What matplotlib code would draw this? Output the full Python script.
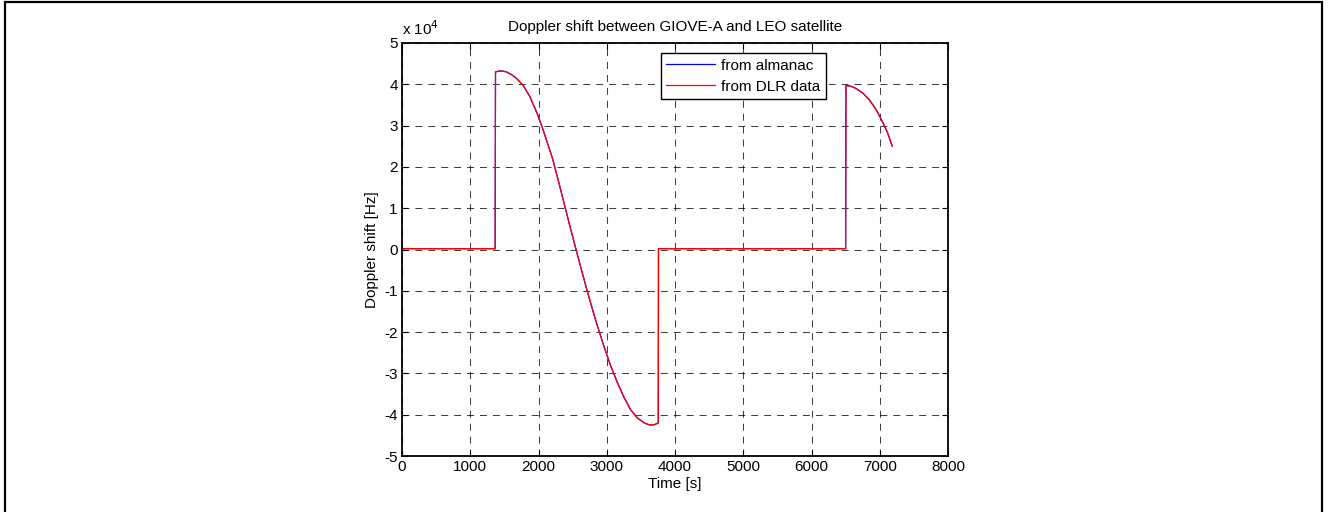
import matplotlib
matplotlib.use("Agg")
import matplotlib.pyplot as plt
from matplotlib.patches import Rectangle

plt.rcParams['font.family'] = ['Liberation Sans', 'DejaVu Sans']
plt.rcParams['lines.scale_dashes'] = False

# ---- data ----
time_s = [0, 1365, 1370, 1420, 1480, 1530, 1600, 1680, 1776, 1874, 1981, 2069,
          2206, 2289, 2370, 2450, 2550, 2650, 2750, 2850, 2950, 3050, 3150,
          3250, 3350, 3450, 3550, 3630, 3700, 3755, 3758, 6500, 6505, 6585,
          6650, 6750, 6850, 6950, 7050, 7120, 7184]
almanac_hz = [200, 200, 43000, 43200, 43200, 43000, 42400, 41400, 39700, 37000,
              32900, 28900, 22000, 16800, 11500, 6300, 0, -6200, -12200, -17800,
              -23000, -27800, -32000, -35700, -38800, -40800, -42000, -42500,
              -42400, -42000, 200, 200, 39700, 39500, 39000, 37900, 36200,
              33800, 30600, 28000, 25000]
dlr_hz = list(almanac_hz)

x_ticks = [0, 1000, 2000, 3000, 4000, 5000, 6000, 7000, 8000]
y_ticks = [-5, -4, -3, -2, -1, 0, 1, 2, 3, 4, 5]
series_labels = ["from almanac", "from DLR data"]

W, H = 1332, 512
fig = plt.figure(figsize=(W / 100, H / 100), dpi=100)
ax = fig.add_axes([402 / W, 1 - 456 / H, (948 - 402) / W, (456 - 43) / H])

ax.plot(time_s, almanac_hz, color='#0000ff', lw=0.9, label=series_labels[0])
ax.plot(time_s, dlr_hz, color='#ff0000', lw=0.9, label=series_labels[1])

ax.set_xlim(0, 8000)
ax.set_ylim(-5e4, 5e4)
ax.set_xticks(x_ticks)
ax.set_xticklabels([str(v) for v in x_ticks])
ax.set_yticks([v * 1e4 for v in y_ticks])
ax.set_yticklabels([str(v) for v in y_ticks])

ax.tick_params(direction='in', length=4, width=0.8, top=True, right=True,
               labelsize=11, pad=3, colors='black')
ax.grid(True, color='black', linestyle=(0, (5, 4.3)), linewidth=0.75, alpha=0.75)
for s in ax.spines.values():
    s.set_linewidth(1.3)
    s.set_color('black')

ax.set_title("Doppler shift between GIOVE-A and LEO satellite", fontsize=11, pad=9)
ax.set_xlabel("Time [s]", fontsize=11, labelpad=2)
ax.set_ylabel("Doppler shift [Hz]", fontsize=11, labelpad=4)
ax.text(0.0, 1.012, r"x 10$^{4}$", transform=ax.transAxes, fontsize=11,
        ha='left', va='bottom')

leg = ax.legend(loc='upper left', bbox_to_anchor=(0.474, 0.975), fontsize=11,
                frameon=True, fancybox=False, borderaxespad=0, borderpad=0.35,
                labelspacing=0.45, handlelength=3.2, handletextpad=0.4)
leg.get_frame().set_edgecolor('black')
leg.get_frame().set_linewidth(1.0)
leg.get_frame().set_alpha(1)

fig.patches.append(Rectangle((5 / W, -0.02), (1322 - 5) / W, 1.02 - 2 / H,
                             transform=fig.transFigure, fill=False,
                             edgecolor='black', linewidth=1.6))

fig.savefig("out.png", dpi=100)
